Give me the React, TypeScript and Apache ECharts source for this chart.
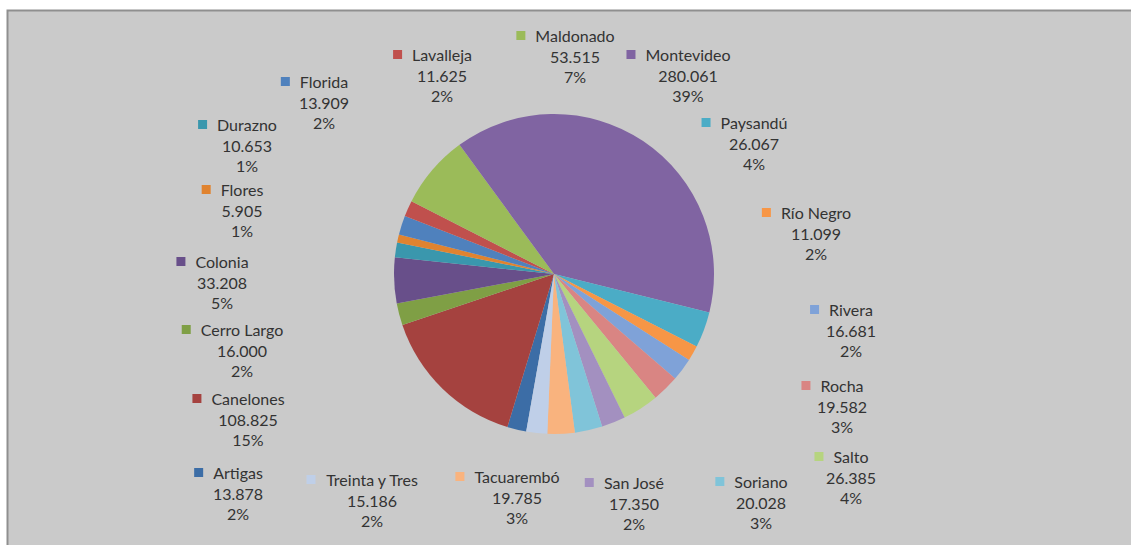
import React, { useEffect, useRef } from "react";
import * as echarts from "echarts";

const DEPARTMENTS = [
  "Artigas", "Canelones", "Cerro Largo", "Colonia", "Durazno", "Flores", "Florida",
  "Lavalleja", "Maldonado", "Montevideo", "Paysandú", "Río Negro", "Rivera", "Rocha",
  "Salto", "San José", "Soriano", "Tacuarembó", "Treinta y Tres",
];
const POPULATION = [
  13878, 108825, 16000, 33208, 10653, 5905, 13909, 11625, 53515, 280061, 26067, 11099,
  16681, 19582, 26385, 17350, 20028, 19785, 15186,
];
const COLORS = [
  "#3C6DA6", "#A5423F", "#7F9F45", "#684F8A", "#3A97AD", "#E0832F", "#4F81BD",
  "#C0504D", "#9BBB59", "#8064A2", "#4BACC6", "#F79646", "#7FA2D8", "#D98583",
  "#B6D47F", "#A390C0", "#80C4D9", "#F9B37E", "#BFCFE8",
];
// label block centres (layout)
const LABEL_CENTERS: [number, number][] = [
  [238, 493], [248, 419], [242, 350], [222, 282], [247, 145], [242, 210], [324, 102],
  [442, 75], [575, 56], [688, 75], [754, 143], [816, 233], [851, 330], [842, 406],
  [851, 477], [634, 503], [761, 502], [517, 497], [372, 500],
];

function fmtThousands(v: number): string {
  return String(v).replace(/\B(?=(\d{3})+(?!\d))/g, ".");
}

export default function App() {
  const ref = useRef<HTMLDivElement>(null);
  useEffect(() => {
    document.body.style.margin = "0";
    const chart = echarts.init(ref.current!, null, { renderer: "svg" });
    const rich: Record<string, any> = {
      name: { fontFamily: "Lato", fontSize: 16, color: "#333333", lineHeight: 20.5 },
      txt: { fontFamily: "Lato", fontSize: 16, color: "#333333", lineHeight: 20.5 },
      gap: { width: 10, lineHeight: 20.5 },
      pad: { width: 19, lineHeight: 20.5 },
    };
    COLORS.forEach((c, i) => {
      rich["sq" + i] = { width: 9, height: 9, backgroundColor: c, lineHeight: 20.5 };
    });
    chart.setOption({
      animation: false,
      backgroundColor: "#ffffff",
      graphic: [
        {
          type: "rect",
          z: -10,
          silent: true,
          shape: { x: 7.5, y: 10.5, width: 1140, height: 560 },
          style: { fill: "#cacaca", stroke: "#8f8f8f", lineWidth: 2 },
        },
      ],
      series: [
        {
          type: "pie",
          center: [554, 274],
          radius: 160,
          startAngle: 260,
          clockwise: true,
          avoidLabelOverlap: false,
          labelLine: { show: false },
          itemStyle: { borderWidth: 0 },
          emphasis: { disabled: true },
          data: DEPARTMENTS.map((n, i) => ({
            name: n,
            value: POPULATION[i],
            itemStyle: { color: COLORS[i] },
          })),
          label: {
            show: true,
            position: "outside",
            align: "center",
            fontFamily: "Lato",
            fontSize: 16,
            color: "#333333",
            lineHeight: 20.5,
            formatter: (p: any) =>
              `{sq${p.dataIndex}| }{gap| }{name|${p.name}}{pad| }\n{txt|${fmtThousands(
                p.value
              )}}\n{txt|${Math.round(p.percent)}%}`,
            rich,
          },
          labelLayout: (p: any) => {
            const c = LABEL_CENTERS[p.dataIndex];
            return { x: c[0], y: c[1], align: "center", verticalAlign: "middle" };
          },
        },
      ],
    });
    return () => chart.dispose();
  }, []);
  return (
    <div
      ref={ref}
      style={{ position: "absolute", left: 0, top: 0, width: 1131, height: 545 }}
    />
  );
}
